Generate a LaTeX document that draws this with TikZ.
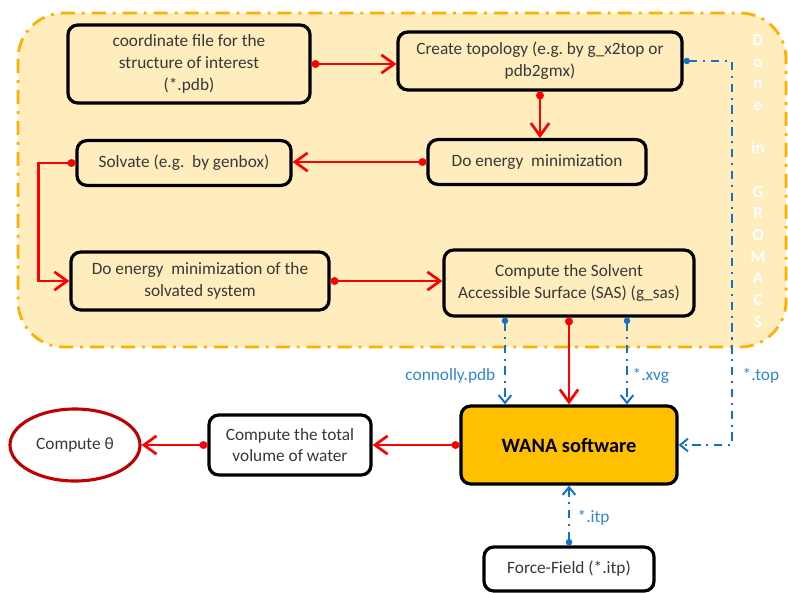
\documentclass[tikz,border=0pt]{standalone}
\usepackage{fontspec}
\setmainfont{Carlito}
\usepackage{tikz}
\usetikzlibrary{
    arrows.meta,
    positioning,
    shapes.geometric,
    calc
}
\usepackage{xcolor}
\definecolor{panelfill}{RGB}{255,237,190}
\definecolor{panelline}{RGB}{255,176,0}
\definecolor{wanafill}{RGB}{255,192,0}
\definecolor{fileblue}{RGB}{20,112,200}
\definecolor{labelblue}{RGB}{46,135,210}
\definecolor{thetared}{RGB}{192,0,0}
\definecolor{textgray}{RGB}{56,56,56}

\begin{document}
\begin{tikzpicture}[
    x=0.025cm, y=-0.025cm,
    box/.style={rectangle, rounded corners=7pt, draw, line width=2.3pt, fill=panelfill, inner sep=1pt, align=center, text=textgray, font=\fontsize{12.3}{15.5}\selectfont},
    arrow/.style={{Circle[length=5.5pt]}-{Straight Barb[length=9pt, width=13pt, line width=1.9pt]}, red, line width=2pt},
    link/.style={{Circle[length=4.5pt]}-{Straight Barb[length=5.5pt, width=9pt, line width=1.4pt]}, fileblue, line width=1.5pt, dash pattern=on 6pt off 4pt on 1.5pt off 4pt},
    lbl/.style={font=\fontsize{12.3}{14}\selectfont, text=labelblue, inner sep=1pt}
]
\useasboundingbox (0,0) rectangle (788,592);

% GROMACS panel
\draw[panelline, fill=panelfill, line width=2pt, rounded corners=1.15cm, dash pattern=on 10pt off 5pt on 2pt off 5pt] (18,13) rectangle (786,347);
\node[white, font=\bfseries\fontsize{12}{15.4}\selectfont, align=center] (gromacs) at (758,181) {D\\o\\n\\e\\\mbox{}\\in\\\mbox{}\\G\\R\\O\\M\\A\\C\\S};

% Steps inside the panel
\node[box, minimum width=6.05cm, minimum height=1.95cm] (coord) at (189,64) {coordinate file for the\\structure of interest\\(*.pdb)};
\node[box, minimum width=7.1cm, minimum height=1.45cm] (topo) at (540,61) {Create topology (e.g.\ by g\_x2top or\\pdb2gmx)};
\node[box, minimum width=5.45cm, minimum height=1.12cm] (emin) at (537,162) {Do energy\ \ minimization};
\node[box, minimum width=5.35cm, minimum height=1.12cm] (solv) at (184,163) {Solvate (e.g.\ \ by genbox)};
\node[box, minimum width=6.45cm, minimum height=1.45cm] (emintwo) at (200,281) {Do energy\ \ minimization of the\\solvated system};
\node[box, minimum width=6.25cm, minimum height=1.65cm] (sas) at (569,283) {Compute the Solvent\\Accessible Surface (SAS) (g\_sas)};

% WANA and outputs
\node[box, fill=wanafill, minimum width=5.4cm, minimum height=1.95cm, text=black, font=\bfseries\fontsize{14.5}{17}\selectfont] (wana) at (569,445) {WANA software};
\node[box, fill=white, minimum width=4.05cm, minimum height=1.5cm] (vol) at (290,445) {Compute the total\\volume of water};
\node[ellipse, draw=thetared, line width=2.2pt, fill=white, minimum width=3.25cm, minimum height=1.8cm, text=textgray, font=\fontsize{12.3}{14}\selectfont] (theta) at (75,445) {Compute θ};
\node[box, fill=white, minimum width=4.25cm, minimum height=1.1cm] (ff) at (569,569) {Force-Field (*.itp)};

% Main flow
\draw[arrow] (coord.east) -- (coord.east -| topo.west);
\draw[arrow] (topo.south) -- (topo.south |- emin.north);
\draw[arrow] (emin.west) -- (emin.west -| solv.east);
\draw[arrow] (solv.west) -- ++(-37,0) |- (emintwo.west);
\draw[arrow] (emintwo.east) -- (emintwo.east -| sas.west);
\draw[arrow] (sas.south) -- (wana.north);
\draw[arrow] (wana.west) -- (vol.east);
\draw[arrow] (vol.west) -- (theta.east);

% Files handed to WANA
\draw[link] ($(sas.south)+(-64,0)$) -- ($(wana.north)+(-64,0)$);
\draw[link] ($(sas.south)+(58,0)$) -- ($(wana.north)+(58,0)$);
\draw[link] (topo.east) -- ++(48,0) |- (wana.east);
\draw[link] (ff.north) -- (wana.south);
\node[lbl, anchor=east] (connolly) at (497,376) {connolly.pdb};
\node[lbl, anchor=west] (xvg) at (631,376) {*.xvg};
\node[lbl, anchor=west] (top) at (741,376) {*.top};
\node[lbl, anchor=west] (itp) at (576,518) {*.itp};

\end{tikzpicture}
\end{document}
